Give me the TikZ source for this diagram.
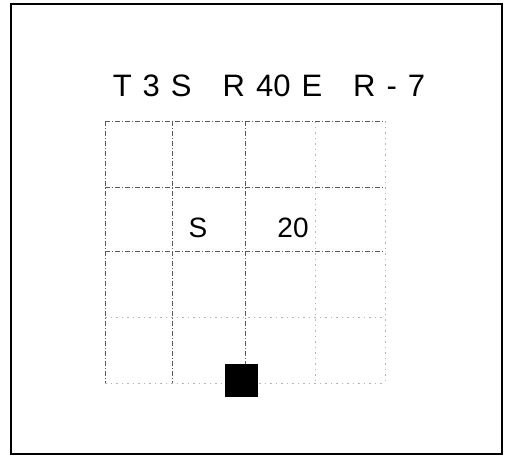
\documentclass[tikz,border=0pt]{standalone}
\usepackage{fontspec}
\setmainfont{Liberation Sans}
\usetikzlibrary{positioning}

\newcommand{\lsp}{\hspace{11pt}}
\newcommand{\wsp}{\hspace{31pt}}

\tikzset{
  gridline/.style={black!65,line width=0.6pt,dash pattern=on 5pt off 2pt on 1pt off 2pt},
  fadeline/.style={black!30,line width=0.6pt,dash pattern=on 2pt off 4pt on 1pt off 4pt},
  bigtext/.style={anchor=base,inner sep=0pt,font=\fontsize{31}{34}\selectfont},
}

\begin{document}
\begin{tikzpicture}[x=1pt,y=-1pt]
\useasboundingbox (0,0) rectangle (510,457);
% frame
\draw[line width=1.2pt] (11,4) rectangle (502,454);
% grid
\foreach \x in {105,172,245} \draw[gridline] (\x,121) -- (\x,383);
\foreach \x in {315,385} \draw[fadeline] (\x,121) -- (\x,383);
\foreach \y in {121,187,251} \draw[gridline] (105,\y) -- (385,\y);
\foreach \y in {317,383} \draw[fadeline] (105,\y) -- (385,\y);
% labels
\node[bigtext] (title) at (269,97) {T\lsp3\lsp S\wsp R\lsp40\lsp E\wsp R\lsp-\lsp7};
\node[bigtext,font=\fontsize{28}{30}\selectfont] (s) at (198,237) {S};
\node[bigtext,font=\fontsize{28}{30}\selectfont] (twenty) at (293,237) {20};
\node[fill=black,minimum size=33pt,inner sep=0pt] (block) at (241.5,380.5) {};
\end{tikzpicture}
\end{document}
